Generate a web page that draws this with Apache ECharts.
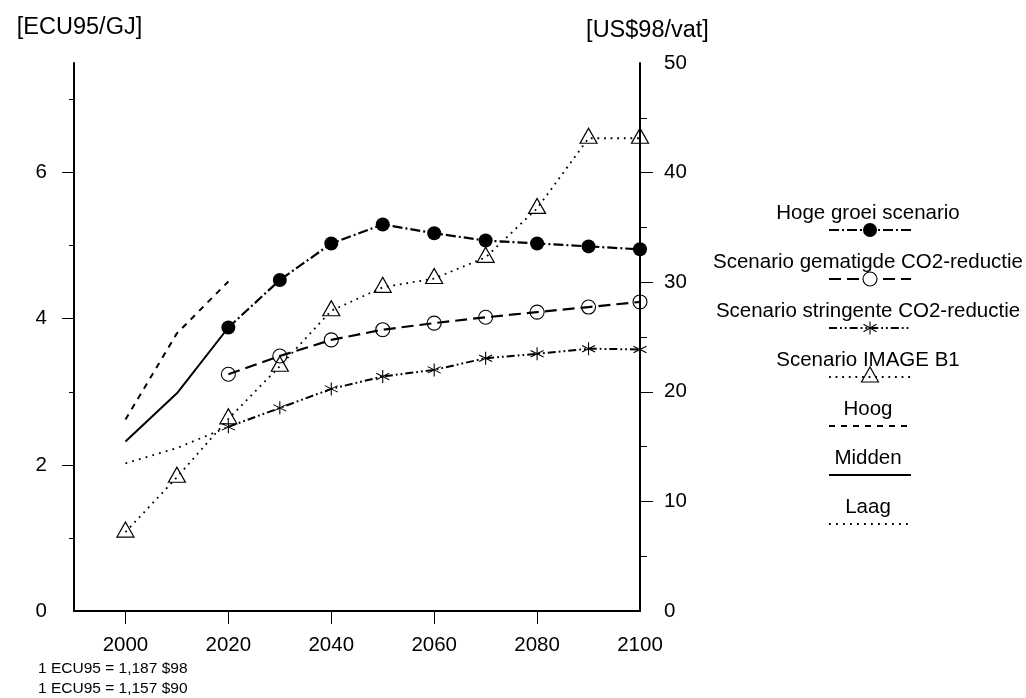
<!DOCTYPE html>
<html>
<head>
<meta charset="utf-8">
<script src="https://cdn.jsdelivr.net/npm/echarts@6/dist/echarts.min.js"></script>
<style>
  html, body { margin: 0; padding: 0; background: #fff; }
  #chart { width: 1026px; height: 698px; }
</style>
</head>
<body>
<div id="chart"></div>
<script>
// Olieprijs-scenario's [ECU95/GJ], rechteras in US$98 per vat
const scenarioYears = [2020, 2030, 2040, 2050, 2060, 2070, 2080, 2090, 2100];
const imageYears = [2000, 2010, 2020, 2030, 2040, 2050, 2060, 2070, 2080, 2090, 2100];
const rangeYears = [2000, 2010, 2020];

const hogeGroei  = [3.88, 4.53, 5.03, 5.29, 5.17, 5.07, 5.03, 4.99, 4.95];
const gematigd   = [3.24, 3.49, 3.71, 3.85, 3.94, 4.02, 4.09, 4.16, 4.23];
const stringent  = [2.52, 2.78, 3.04, 3.21, 3.30, 3.46, 3.52, 3.59, 3.58];
const imageB1    = [1.08, 1.83, 2.63, 3.35, 4.11, 4.43, 4.55, 4.84, 5.51, 6.47, 6.47];
const hoog       = [2.62, 3.80, 4.51];
const midden     = [2.32, 2.98, 3.88];
const laag       = [2.02, 2.23, 2.52];

const seriesNames = [
  'Hoge groei scenario',
  'Scenario gematigde CO2-reductie',
  'Scenario stringente CO2-reductie',
  'Scenario IMAGE B1',
  'Hoog',
  'Midden',
  'Laag'
];

const xTickValues  = [2000, 2020, 2040, 2060, 2080];
const xLabelValues = [2000, 2020, 2040, 2060, 2080, 2100];
const leftTickValues   = [2, 4, 6];
const leftMinorValues  = [1, 3, 5, 7];
const leftLabelValues  = [0, 2, 4, 6];
const rightTickValues  = [10, 20, 30, 40];
const rightLabelValues = [0, 10, 20, 30, 40, 50];

const footnotes = ['1 ECU95 = 1,187 $98', '1 ECU95 = 1,157 $90'];

const FONT = '"Liberation Sans", Arial, Helvetica, sans-serif';
const INK = '#000';
const NONE = 'rgba(0,0,0,0)';
const ASTERISK = 'path://M0 0L0 20M-8.66 5L8.66 15M-8.66 15L8.66 5';

const pairs = (xs, ys) => xs.map((x, i) => [x, ys[i]]);

// line + marker styles per series
const styles = [
  { data: pairs(scenarioYears, hogeGroei), dash: [10, 3, 2, 3], width: 2.2,
    symbol: 'circle', size: 14, fill: INK, border: 0 },
  { data: pairs(scenarioYears, gematigd), dash: [12, 6], width: 2.2,
    symbol: 'circle', size: 14, fill: NONE, border: 1.1 },
  { data: pairs(scenarioYears, stringent), dash: [8, 3, 1.8, 3, 1.8, 3], width: 2,
    symbol: ASTERISK, size: [13, 13], fill: NONE, border: 1.1 },
  { data: pairs(imageYears, imageB1), dash: [1.8, 4.8], width: 1.8,
    symbol: 'triangle', size: [17, 15], offset: [0, -2.5], fill: NONE, border: 1.2 },
  { data: pairs(rangeYears, hoog), dash: [6, 6], width: 2, symbol: 'none' },
  { data: pairs(rangeYears, midden), dash: 'solid', width: 2, symbol: 'none' },
  { data: pairs(rangeYears, laag), dash: [1.8, 5.2], width: 1.8, symbol: 'none' }
];

const series = styles.map((s, i) => ({
  name: seriesNames[i],
  type: 'line',
  yAxisIndex: 0,
  data: s.data,
  clip: false,
  symbol: s.symbol,
  symbolSize: s.size || 0,
  symbolOffset: s.offset || [0, 0],
  showSymbol: s.symbol !== 'none',
  z: 3 + i,
  lineStyle: { color: INK, width: s.width, type: s.dash },
  itemStyle: { color: s.fill || INK, borderColor: INK, borderWidth: s.border || 0 },
  emphasis: { disabled: true },
  silent: true
}));

// legend: name above a sample of line and marker
const legendGraphics = [];
styles.forEach((s, i) => {
  const ty = 213 + 49 * i;
  const ly = ty + 17;
  const cx = 870;
  legendGraphics.push({
    type: 'text', x: 868, y: ty,
    style: { text: seriesNames[i], font: '20.5px ' + FONT, fill: INK, align: 'center', verticalAlign: 'middle' }
  });
  legendGraphics.push({
    type: 'line', shape: { x1: 829, y1: ly, x2: 911, y2: ly },
    style: { stroke: INK, lineWidth: s.width, lineDash: Array.isArray(s.dash) ? s.dash : null }
  });
  if (s.symbol === 'circle') {
    legendGraphics.push({
      type: 'circle', shape: { cx: cx, cy: ly, r: s.size / 2 },
      style: { fill: s.fill === INK ? INK : '#fff', stroke: INK, lineWidth: s.border || 0 }, z: 10
    });
  } else if (s.symbol === 'triangle') {
    legendGraphics.push({
      type: 'polygon',
      shape: { points: [[cx, ly - 10], [cx - 8.5, ly + 5], [cx + 8.5, ly + 5]] },
      style: { fill: NONE, stroke: INK, lineWidth: 1.2 }, z: 10
    });
  } else if (s.symbol === ASTERISK) {
    [[[cx, ly - 6.5], [cx, ly + 6.5]],
     [[cx - 6.5, ly - 3.8], [cx + 6.5, ly + 3.8]],
     [[cx - 6.5, ly + 3.8], [cx + 6.5, ly - 3.8]]].forEach(pts => {
      legendGraphics.push({
        type: 'polyline', shape: { points: pts },
        style: { stroke: INK, lineWidth: 1.1, fill: null }, z: 10
      });
    });
  }
});

const footGraphics = footnotes.map((t, i) => ({
  type: 'text', x: 38, y: 669 + 20 * i,
  style: { text: t, font: '15.5px ' + FONT, fill: INK, align: 'left', verticalAlign: 'middle' }
}));

const labelStyle = { color: INK, fontSize: 20.5, fontFamily: FONT, formatter: v => String(v) };

const option = {
  backgroundColor: '#fff',
  animation: false,
  grid: { left: 74, right: 386, top: 63, bottom: 87, containLabel: false },
  xAxis: {
    type: 'value', min: 1990, max: 2100,
    splitLine: { show: false },
    axisLine: { show: true, onZero: false, lineStyle: { color: INK, width: 2 } },
    axisTick: { show: true, customValues: xTickValues, length: 13, lineStyle: { color: INK, width: 1 } },
    axisLabel: { customValues: xLabelValues, margin: 24, ...labelStyle }
  },
  yAxis: [
    {
      type: 'value', position: 'left', min: 0, max: 7.5,
      name: '[ECU95/GJ]', nameLocation: 'end', nameGap: 23,
      nameTextStyle: { color: INK, fontSize: 23.5, fontFamily: FONT, padding: [0, 0, 0, 11] },
      splitLine: { show: false },
      axisLine: { show: true, onZero: false, lineStyle: { color: INK, width: 2 } },
      axisTick: { show: true, customValues: leftTickValues, length: 12, lineStyle: { color: INK, width: 1 } },
      axisLabel: { customValues: leftLabelValues, margin: 27, ...labelStyle }
    },
    {
      type: 'value', position: 'right', min: 0, max: 50, interval: 10,
      name: '[US$98/vat]', nameLocation: 'end', nameGap: 20,
      nameTextStyle: { color: INK, fontSize: 23.5, fontFamily: FONT, padding: [0, 0, 0, 15] },
      splitLine: { show: false },
      axisLine: { show: true, onZero: false, lineStyle: { color: INK, width: 2 } },
      axisTick: { show: true, customValues: rightTickValues, length: 13, lineStyle: { color: INK, width: 1 } },
      minorTick: { show: true, splitNumber: 2, length: 7, lineStyle: { color: INK, width: 1 } },
      axisLabel: { customValues: rightLabelValues, margin: 24, ...labelStyle }
    },
    {
      // short ticks at the odd values of the left axis
      type: 'value', position: 'left', min: 0, max: 7.5,
      splitLine: { show: false },
      axisLine: { show: false },
      axisTick: { show: true, customValues: leftMinorValues, length: 5, lineStyle: { color: INK, width: 1 } },
      axisLabel: { show: false }
    }
  ],
  series: series,
  graphic: legendGraphics.concat(footGraphics)
};

const chart = echarts.init(document.getElementById('chart'), null, { renderer: 'canvas' });
chart.setOption(option);
</script>
</body>
</html>
